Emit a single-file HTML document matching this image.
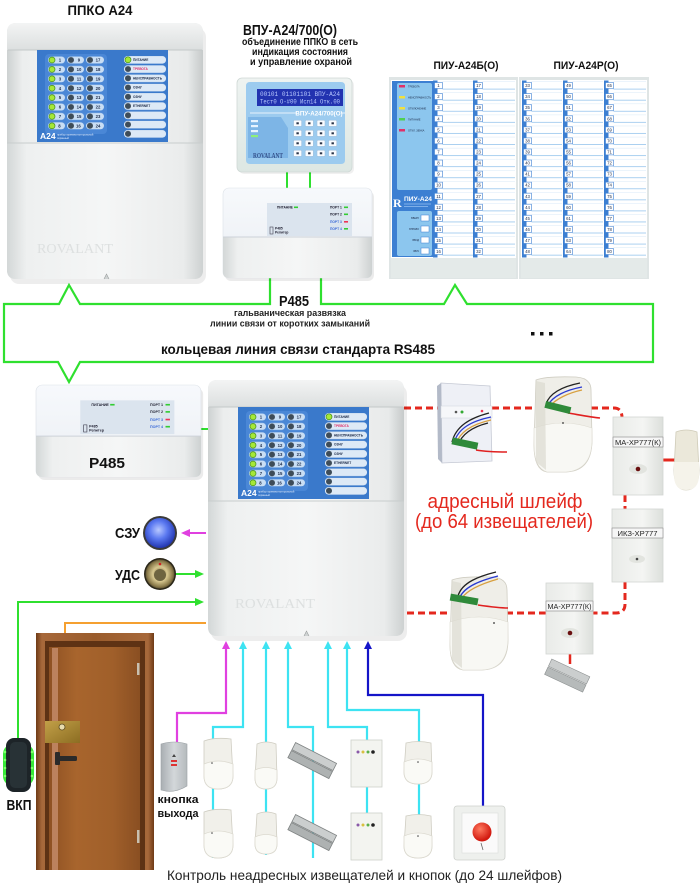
<!DOCTYPE html>
<html><head><meta charset="utf-8"><style>
html,body{margin:0;padding:0;background:#fff;}
svg{display:block;font-family:"Liberation Sans",Arial,sans-serif;}
</style></head><body>
<svg width="700" height="884" viewBox="0 0 700 884" xmlns="http://www.w3.org/2000/svg">
<defs>
 <linearGradient id="side" x1="0" x2="1" y1="0" y2="0">
  <stop offset="0" stop-color="#cdd1d1"/><stop offset=".08" stop-color="#eceeee"/><stop offset=".5" stop-color="#f6f7f7"/><stop offset=".92" stop-color="#e8eaea"/><stop offset="1" stop-color="#c6caca"/>
 </linearGradient>
 <linearGradient id="cap" x1="0" x2="0" y1="0" y2="1">
  <stop offset="0" stop-color="#f3f4f4"/><stop offset="1" stop-color="#dcdfdf"/>
 </linearGradient>
 <linearGradient id="cover" x1="0" x2="1" y1="0" y2="0">
  <stop offset="0" stop-color="#d3d7d7"/><stop offset=".1" stop-color="#eef0f0"/><stop offset=".5" stop-color="#f5f6f6"/><stop offset=".9" stop-color="#eaecec"/><stop offset="1" stop-color="#cdd1d1"/>
 </linearGradient>
 <linearGradient id="rb" x1="0" x2="0" y1="0" y2="1">
  <stop offset="0" stop-color="#f7f9fc"/><stop offset="1" stop-color="#eaeef3"/>
 </linearGradient>
 <linearGradient id="vpu" x1="0" x2="0" y1="0" y2="1">
  <stop offset="0" stop-color="#eef3f1"/><stop offset="1" stop-color="#dde7e3"/>
 </linearGradient>
 <linearGradient id="wood" x1="0" x2="1" y1="0" y2="0">
  <stop offset="0" stop-color="#8e5123"/><stop offset=".3" stop-color="#a8652d"/><stop offset=".7" stop-color="#a05f2a"/><stop offset="1" stop-color="#8a4f22"/>
 </linearGradient>
 <linearGradient id="frame" x1="0" x2="1" y1="0" y2="0">
  <stop offset="0" stop-color="#6e3a16"/><stop offset=".05" stop-color="#a7683a"/><stop offset=".5" stop-color="#9a5c2c"/><stop offset=".95" stop-color="#a7683a"/><stop offset="1" stop-color="#6e3a16"/>
 </linearGradient>
 <linearGradient id="brass" x1="0" x2="1" y1="0" y2="1">
  <stop offset="0" stop-color="#c2a048"/><stop offset="1" stop-color="#8c6d22"/>
 </linearGradient>
 <linearGradient id="grey" x1="0" x2="1" y1="0" y2="0">
  <stop offset="0" stop-color="#a9aeb2"/><stop offset=".5" stop-color="#d3d7da"/><stop offset="1" stop-color="#b5babd"/>
 </linearGradient>
 <linearGradient id="ma" x1="0" x2="1" y1="0" y2="0">
  <stop offset="0" stop-color="#e9ebe8"/><stop offset=".6" stop-color="#f4f5f3"/><stop offset="1" stop-color="#dcdfdb"/>
 </linearGradient>
 <radialGradient id="sph" cx=".45" cy=".4" r=".6">
  <stop offset="0" stop-color="#b8c8ff"/><stop offset=".5" stop-color="#5a78f0"/><stop offset="1" stop-color="#2236b0"/>
 </radialGradient>
 <radialGradient id="udc" cx=".5" cy=".5" r=".55">
  <stop offset="0" stop-color="#6a5a30"/><stop offset=".45" stop-color="#d8c890"/><stop offset=".8" stop-color="#8a7a4a"/><stop offset="1" stop-color="#3a3220"/>
 </radialGradient>
 <radialGradient id="redb" cx=".4" cy=".35" r=".6">
  <stop offset="0" stop-color="#ff7a60"/><stop offset="1" stop-color="#d21a10"/>
 </radialGradient>
 <pattern id="a24L" patternUnits="userSpaceOnUse" x="0" y="5.8" width="131" height="9.4">
  <rect x="11" y=".7" width="17" height="7" rx="3.5" fill="#c9def4"/>
  <rect x="30" y=".7" width="17" height="7" rx="3.5" fill="#c9def4"/>
  <rect x="49" y=".7" width="18" height="7" rx="3.5" fill="#c9def4"/>
  <circle cx="15" cy="4.2" r="3" fill="#a6e838" stroke="#3d8a18" stroke-width=".7"/>
  <circle cx="34" cy="4.2" r="3" fill="#3e4c58"/>
  <circle cx="53" cy="4.2" r="3" fill="#3e4c58"/>
 </pattern>
 <pattern id="a24R" patternUnits="userSpaceOnUse" x="0" y="5.6" width="131" height="9.25">
  <rect x="87" y=".5" width="42" height="7.5" rx="3.5" fill="#dde9f6"/>
  <circle cx="91" cy="4.2" r="3" fill="#3e4c58"/>
 </pattern>
 <pattern id="piu" patternUnits="userSpaceOnUse" x="0" y="80.5" width="60" height="11.07">
  <rect x="0" y="0" width="4.5" height="11.07" fill="#3c7fd2"/>
  <rect x="1.5" y="2" width="8" height="6" fill="#fff" stroke="#3c7fd2" stroke-width=".6"/>
  <line x1="9.5" y1="8.6" x2="60" y2="8.6" stroke="#9cc8ee" stroke-width=".8"/>
  <line x1="9.5" y1="1.2" x2="60" y2="1.2" stroke="#d6e8f7" stroke-width=".5"/>
 </pattern>
 <pattern id="keys" patternUnits="userSpaceOnUse" x="293" y="119" width="11.7" height="10">
  <rect x=".6" y="1.2" width="8" height="6.2" rx="1" fill="#fafcff" stroke="#7fa0c0" stroke-width=".3"/>
  <rect x="3.4" y="3.3" width="2.4" height="2" fill="#2a3448"/>
 </pattern>
</defs>

<rect width="700" height="884" fill="#fff"/>

<!-- ===== titles ===== -->
<text x="100" y="15" font-size="14" font-weight="bold" text-anchor="middle" textLength="65" lengthAdjust="spacingAndGlyphs" fill="#111">ППКО А24</text>
<text x="290" y="35" font-size="15" font-weight="bold" text-anchor="middle" textLength="94" lengthAdjust="spacingAndGlyphs" fill="#111">ВПУ-А24/700(О)</text>
<g font-size="10" font-weight="bold" text-anchor="middle" fill="#111">
 <text x="300" y="45" textLength="116" lengthAdjust="spacingAndGlyphs">объединение ППКО в сеть</text>
 <text x="300" y="55" textLength="96" lengthAdjust="spacingAndGlyphs">индикация состояния</text>
 <text x="301" y="65" textLength="102" lengthAdjust="spacingAndGlyphs">и управление охраной</text>
</g>
<text x="466" y="69" font-size="11" font-weight="bold" text-anchor="middle" textLength="65" lengthAdjust="spacingAndGlyphs" fill="#111">ПИУ-А24Б(О)</text>
<text x="586" y="69" font-size="11" font-weight="bold" text-anchor="middle" textLength="65" lengthAdjust="spacingAndGlyphs" fill="#111">ПИУ-А24Р(О)</text>

<!-- ===== green ring ===== -->
<path d="M270,278 V304 H80 L69,285 L59,304 H4 V362 H58 L69,382 L80,362 H653 V304 H467 L455,285 L444,304 H321 V278" fill="none" stroke="#2fe02f" stroke-width="2.2"/>
<line x1="287" y1="172" x2="287" y2="189" stroke="#2fe02f" stroke-width="2"/>
<line x1="310" y1="172" x2="310" y2="189" stroke="#2fe02f" stroke-width="2"/>
<line x1="200" y1="429" x2="210" y2="429" stroke="#2fe02f" stroke-width="2"/>
<text x="294" y="306" font-size="15" font-weight="bold" text-anchor="middle" textLength="30" lengthAdjust="spacingAndGlyphs" fill="#111">Р485</text>
<g font-size="9.5" font-weight="bold" text-anchor="middle" fill="#222">
 <text x="290" y="316" textLength="112" lengthAdjust="spacingAndGlyphs">гальваническая развязка</text>
 <text x="290" y="326.5" textLength="160" lengthAdjust="spacingAndGlyphs">линии связи от коротких замыканий</text>
</g>
<text x="298" y="354" font-size="14" font-weight="bold" text-anchor="middle" textLength="274" lengthAdjust="spacingAndGlyphs" fill="#111">кольцевая линия связи стандарта RS485</text>
<g fill="#111"><rect x="531" y="332" width="3.5" height="3.5"/><rect x="540" y="332" width="3.5" height="3.5"/><rect x="549" y="332" width="3.5" height="3.5"/></g>

<!-- ===== red dashed address loop ===== -->
<g fill="none" stroke="#e4281e" stroke-width="3" stroke-dasharray="7 4">
 <path d="M404,408 H614 Q622,408 622,418"/>
 <path d="M625,495 V510"/>
 <path d="M625,582 V604 Q625,613 616,613 H593"/>
 <path d="M546,613 H404"/>
</g>
<line x1="663" y1="460" x2="675" y2="460" stroke="#e4281e" stroke-width="3"/>
<line x1="570" y1="654" x2="570" y2="664" stroke="#e4281e" stroke-width="2.5"/>

<!-- ===== left arrows ===== -->
<line x1="190" y1="533" x2="206" y2="533" stroke="#e040e0" stroke-width="2"/>
<polygon points="181,533 190,529 190,537" fill="#e040e0"/>
<line x1="175" y1="574" x2="196" y2="574" stroke="#2fe02f" stroke-width="2"/>
<polygon points="204,574 195,570 195,578" fill="#2fe02f"/>
<path d="M18,738 V602 H196" fill="none" stroke="#2fe02f" stroke-width="2"/>
<polygon points="204,602 195,598 195,606" fill="#2fe02f"/>
<path d="M206,623 H65 V712" fill="none" stroke="#f5a030" stroke-width="2"/>
<polygon points="65,721 60,712 70,712" fill="#f5a030"/>

<!-- ===== bottom loops ===== -->
<g fill="none" stroke-width="2.2">
 <path d="M226,648 V713 H177 V742" stroke="#e040e0"/>
 <path d="M243,648 V727 H213 V858" stroke="#3de3f2"/>
 <path d="M266,648 V855" stroke="#3de3f2"/>
 <path d="M288,648 V727 H313 V858" stroke="#3de3f2"/>
 <path d="M328,648 V727 H367 V860" stroke="#3de3f2"/>
 <path d="M347,648 V710 H419 V858" stroke="#3de3f2"/>
 <path d="M368,648 V695 H483 V808" stroke="#1515c8"/>
</g>
<polygon points="226,641 222,649 230,649" fill="#e040e0"/>
<g fill="#3de3f2">
 <polygon points="243,641 239,649 247,649"/>
 <polygon points="266,641 262,649 270,649"/>
 <polygon points="288,641 284,649 292,649"/>
 <polygon points="328,641 324,649 332,649"/>
 <polygon points="347,641 343,649 351,649"/>
</g>
<polygon points="368,641 364,649 372,649" fill="#1515c8"/>

<!-- ===== ППКО A24 top ===== -->
<g transform="translate(7,23)">
 <rect x="3" y="5" width="196" height="256" rx="9" fill="#000" opacity=".07"/>
 <rect x="0" y="0" width="196" height="256" rx="9" fill="url(#side)"/>
 <path d="M0,9 Q0,0 9,0 H187 Q196,0 196,9 V27 H0 Z" fill="url(#cap)"/>
 <line x1="1" y1="27" x2="195" y2="27" stroke="#c4c9c9"/>
 <g transform="translate(30,27)">
  <rect width="131" height="92" fill="#3a79cb"/>
  <rect x="8" y="4" width="62" height="80" rx="4" fill="#4a87d6"/>
  <rect x="9" y="5.8" width="60" height="75.2" fill="url(#a24L)"/>
  <rect x="86" y="5.6" width="44" height="83.25" fill="url(#a24R)"/>
  <circle cx="91" cy="9.8" r="3" fill="#a6e838" stroke="#3d8a18" stroke-width=".7"/>
  <text font-size="4.3" font-weight="bold" fill="#1c2a48" text-anchor="middle">
   <tspan x="23" y="11.6">1</tspan><tspan x="23" y="21">2</tspan><tspan x="23" y="30.4">3</tspan><tspan x="23" y="39.8">4</tspan><tspan x="23" y="49.2">5</tspan><tspan x="23" y="58.6">6</tspan><tspan x="23" y="68">7</tspan><tspan x="23" y="77.4">8</tspan>
   <tspan x="42" y="11.6">9</tspan><tspan x="42" y="21">10</tspan><tspan x="42" y="30.4">11</tspan><tspan x="42" y="39.8">12</tspan><tspan x="42" y="49.2">13</tspan><tspan x="42" y="58.6">14</tspan><tspan x="42" y="68">15</tspan><tspan x="42" y="77.4">16</tspan>
   <tspan x="61" y="11.6">17</tspan><tspan x="61" y="21">18</tspan><tspan x="61" y="30.4">19</tspan><tspan x="61" y="39.8">20</tspan><tspan x="61" y="49.2">21</tspan><tspan x="61" y="58.6">22</tspan><tspan x="61" y="68">23</tspan><tspan x="61" y="77.4">24</tspan>
  </text>
  <text font-size="3.2" font-weight="bold" fill="#1c2a48">
   <tspan x="96" y="10.9">ПИТАНИЕ</tspan><tspan x="96" y="20.15" fill="#e0306a">ТРЕВОГА</tspan><tspan x="96" y="29.4">НЕИСПРАВНОСТЬ</tspan><tspan x="96" y="38.65">ОЗНУ</tspan><tspan x="96" y="47.9">ОЗНУ</tspan><tspan x="96" y="57.15">ETHERNET</tspan>
  </text>
  <text x="3" y="89" font-size="8.5" font-weight="bold" fill="#fff">A24</text>
  <text x="20" y="85.5" font-size="2.6" fill="#e6f0ff">прибор приемно-контрольный</text>
  <text x="20" y="89" font-size="2.6" fill="#e6f0ff">охранный</text>
 </g>
 <path d="M0,120 H196 V247 Q196,256 187,256 H9 Q0,256 0,247 Z" fill="url(#cover)"/>
 <line x1="0" y1="120" x2="196" y2="120" stroke="#c8cdcd"/>
 <text x="30" y="230" font-family="Liberation Serif,serif" font-size="14" fill="#dde0e0" textLength="76" lengthAdjust="spacingAndGlyphs">ROVALANT</text>
 <path d="M97,256 L99.5,251 L102,256" fill="#cfd3d3" stroke="#9a9e9e" stroke-width=".6"/>
</g>

<!-- ===== ВПУ ===== -->
<g>
 <rect x="239" y="80" width="115" height="94" rx="5" fill="#000" opacity=".06"/>
 <rect x="237" y="78" width="115" height="94" rx="5" fill="url(#vpu)" stroke="#cfd8d5" stroke-width=".8"/>
 <path d="M246,86 Q246,82 250,82 H341 Q345,82 345,86 V160 Q345,164 341,164 H250 Q246,164 246,160 Z" fill="#9ccbef"/>
 <rect x="257" y="89" width="86" height="17" fill="#2233b0"/>
 <text x="260" y="96" font-family="Liberation Mono,monospace" font-size="6" fill="#b8c8ff" textLength="80" lengthAdjust="spacingAndGlyphs">00101  01101101  ВПУ-А24</text>
 <text x="260" y="103.5" font-family="Liberation Mono,monospace" font-size="6" fill="#b8c8ff" textLength="80" lengthAdjust="spacingAndGlyphs">Тест0 О-#00 Исп14 Отк.00</text>
 <line x1="250" y1="113" x2="345" y2="113" stroke="#fff" stroke-width=".8"/>
 <rect x="297" y="109" width="44" height="8" fill="#9ccbef"/>
 <text x="319" y="115.5" font-size="6.2" font-weight="bold" fill="#fff" text-anchor="middle">ВПУ-А24/700(О)</text>
 <path d="M248,117 H281 L288,128 V158 H248 Z" fill="#7db5e6"/>
 <rect x="251" y="120" width="7" height="2.2" fill="#e8f4ff"/><rect x="251" y="125" width="7" height="2.2" fill="#e8f4ff"/><rect x="251" y="130" width="7" height="2.2" fill="#e8f4ff"/><rect x="251" y="135" width="7" height="2.2" fill="#8ef07a"/>
 <rect x="293" y="119" width="46.8" height="40" fill="url(#keys)"/>
 <text x="253" y="158" font-family="Liberation Serif,serif" font-size="7" font-weight="bold" fill="#34508a" textLength="30" lengthAdjust="spacingAndGlyphs">ROVALANT</text>
</g>

<!-- ===== Р485 top ===== -->
<g transform="translate(223,188)">
 <rect x="2" y="3" width="149" height="90" rx="6" fill="#000" opacity=".08"/>
 <rect x="0" y="0" width="149" height="90" rx="6" fill="url(#rb)" stroke="#dde2e8" stroke-width=".6"/>
 <rect x="44" y="15" width="85" height="33" fill="#dbe4ee"/>
 <g font-size="3.3" font-weight="bold" fill="#223">
  <text x="54" y="20.5">ПИТАНИЕ</text>
  <text x="107" y="20.5">ПОРТ 1</text><text x="107" y="27.5">ПОРТ 2</text><text x="107" y="35" fill="#3a6ad8">ПОРТ 3</text><text x="107" y="42" fill="#3a6ad8">ПОРТ 4</text>
  <text x="52" y="41.5">Р485</text><text x="52" y="45.5">Репитер</text>
 </g>
 <rect x="71" y="18.5" width="4" height="1.6" fill="#3c3"/>
 <rect x="121" y="18.5" width="4" height="1.6" fill="#3c3"/><rect x="121" y="25.5" width="4" height="1.6" fill="#3c3"/><rect x="121" y="33" width="4" height="1.6" fill="#e35"/><rect x="121" y="40" width="4" height="1.6" fill="#3c3"/>
 <rect x="47" y="39" width="3" height="7" fill="none" stroke="#445" stroke-width=".6"/>
 <path d="M0,49 H149 V84 Q149,90 143,90 H6 Q0,90 0,84 Z" fill="url(#cover)"/>
 <line x1="0" y1="49" x2="149" y2="49" stroke="#cdd2d8"/>
</g>

<!-- ===== ПИУ-А24Б ===== -->
<g>
 <rect x="389" y="77" width="129" height="202" fill="#dfe5e5"/>
 <rect x="391" y="80" width="125" height="178" fill="#fff"/>
 <rect x="391" y="258" width="125" height="20" fill="#e4eae9"/>
 <rect x="392" y="81" width="41" height="176" fill="#3c7fd2"/>
 <rect x="397" y="83" width="35" height="107" rx="2" fill="#8cc6ee"/>
 <rect x="399" y="85" width="6" height="2.5" fill="#e0306a"/>
 <rect x="399" y="96" width="6" height="2.5" fill="#f0e040"/>
 <rect x="399" y="107" width="6" height="2.5" fill="#f0e040"/>
 <rect x="399" y="118" width="6" height="2.5" fill="#50d050"/>
 <rect x="399" y="129" width="6" height="2.5" fill="#e0306a"/>
 <g font-size="2.6" fill="#1c2a48">
  <text x="408" y="87.5">ТРЕВОГА</text><text x="408" y="98.5">НЕИСПРАВНОСТЬ</text><text x="408" y="109.5">ОТКЛЮЧЕНИЕ</text><text x="408" y="120.5">ПИТАНИЕ</text><text x="408" y="131.5">ОТКЛ. ЗВУКА</text>
 </g>
 <text x="393" y="207" font-family="Liberation Serif,serif" font-size="12" font-weight="bold" fill="#fff">R</text>
 <text x="404" y="201" font-size="6.5" font-weight="bold" fill="#fff" textLength="28" lengthAdjust="spacingAndGlyphs">ПИУ-А24</text>
 <line x1="404" y1="204" x2="431" y2="204" stroke="#bfe0ff" stroke-width=".6"/>
 <line x1="404" y1="206.5" x2="428" y2="206.5" stroke="#bfe0ff" stroke-width=".6"/>
 <rect x="397" y="211" width="35" height="45" rx="2" fill="#8cc6ee"/>
 <g fill="#fff" stroke="#3c7fd2" stroke-width=".5"><rect x="421" y="215" width="8" height="6"/><rect x="421" y="226" width="8" height="6"/><rect x="421" y="237" width="8" height="6"/><rect x="421" y="248" width="8" height="6"/></g>
 <g font-size="2.4" fill="#1c2a48" text-anchor="end"><text x="419" y="219">ВВЕРХ</text><text x="419" y="230">ВПРАВО</text><text x="419" y="241">ВВОД</text><text x="419" y="252">ЗВУК</text></g>
 <g transform="translate(433,0)">
  <rect x="0" y="80.5" width="40" height="177" fill="url(#piu)"/>
  <text font-size="4.3" fill="#1c2a48" text-anchor="middle"><tspan x="5.5" y="87.1">1</tspan><tspan x="5.5" y="98.2">2</tspan><tspan x="5.5" y="109.2">3</tspan><tspan x="5.5" y="120.3">4</tspan><tspan x="5.5" y="131.4">5</tspan><tspan x="5.5" y="142.5">6</tspan><tspan x="5.5" y="153.5">7</tspan><tspan x="5.5" y="164.6">8</tspan><tspan x="5.5" y="175.7">9</tspan><tspan x="5.5" y="186.7">10</tspan><tspan x="5.5" y="197.8">11</tspan><tspan x="5.5" y="208.9">12</tspan><tspan x="5.5" y="219.9">13</tspan><tspan x="5.5" y="231">14</tspan><tspan x="5.5" y="242.1">15</tspan><tspan x="5.5" y="253.2">16</tspan></text>
 </g>
 <g transform="translate(473,0)">
  <rect x="0" y="80.5" width="42" height="177" fill="url(#piu)"/>
  <text font-size="4.3" fill="#1c2a48" text-anchor="middle"><tspan x="5.5" y="87.1">17</tspan><tspan x="5.5" y="98.2">18</tspan><tspan x="5.5" y="109.2">19</tspan><tspan x="5.5" y="120.3">20</tspan><tspan x="5.5" y="131.4">21</tspan><tspan x="5.5" y="142.5">22</tspan><tspan x="5.5" y="153.5">23</tspan><tspan x="5.5" y="164.6">24</tspan><tspan x="5.5" y="175.7">25</tspan><tspan x="5.5" y="186.7">26</tspan><tspan x="5.5" y="197.8">27</tspan><tspan x="5.5" y="208.9">28</tspan><tspan x="5.5" y="219.9">29</tspan><tspan x="5.5" y="231">30</tspan><tspan x="5.5" y="242.1">31</tspan><tspan x="5.5" y="253.2">32</tspan></text>
 </g>
</g>

<!-- ===== ПИУ-А24Р ===== -->
<g>
 <rect x="519" y="77" width="130" height="202" fill="#dfe5e5"/>
 <rect x="521" y="80" width="126" height="178" fill="#fff"/>
 <rect x="521" y="258" width="126" height="20" fill="#e4eae9"/>
 <g transform="translate(522,0)">
  <rect x="0" y="80.5" width="40" height="177" fill="url(#piu)"/>
  <text font-size="4.3" fill="#1c2a48" text-anchor="middle"><tspan x="5.5" y="87.1">33</tspan><tspan x="5.5" y="98.2">34</tspan><tspan x="5.5" y="109.2">35</tspan><tspan x="5.5" y="120.3">36</tspan><tspan x="5.5" y="131.4">37</tspan><tspan x="5.5" y="142.5">38</tspan><tspan x="5.5" y="153.5">39</tspan><tspan x="5.5" y="164.6">40</tspan><tspan x="5.5" y="175.7">41</tspan><tspan x="5.5" y="186.7">42</tspan><tspan x="5.5" y="197.8">43</tspan><tspan x="5.5" y="208.9">44</tspan><tspan x="5.5" y="219.9">45</tspan><tspan x="5.5" y="231">46</tspan><tspan x="5.5" y="242.1">47</tspan><tspan x="5.5" y="253.2">48</tspan></text>
 </g>
 <g transform="translate(563,0)">
  <rect x="0" y="80.5" width="40" height="177" fill="url(#piu)"/>
  <text font-size="4.3" fill="#1c2a48" text-anchor="middle"><tspan x="5.5" y="87.1">49</tspan><tspan x="5.5" y="98.2">50</tspan><tspan x="5.5" y="109.2">51</tspan><tspan x="5.5" y="120.3">52</tspan><tspan x="5.5" y="131.4">53</tspan><tspan x="5.5" y="142.5">54</tspan><tspan x="5.5" y="153.5">55</tspan><tspan x="5.5" y="164.6">56</tspan><tspan x="5.5" y="175.7">57</tspan><tspan x="5.5" y="186.7">58</tspan><tspan x="5.5" y="197.8">59</tspan><tspan x="5.5" y="208.9">60</tspan><tspan x="5.5" y="219.9">61</tspan><tspan x="5.5" y="231">62</tspan><tspan x="5.5" y="242.1">63</tspan><tspan x="5.5" y="253.2">64</tspan></text>
 </g>
 <g transform="translate(604,0)">
  <rect x="0" y="80.5" width="42" height="177" fill="url(#piu)"/>
  <text font-size="4.3" fill="#1c2a48" text-anchor="middle"><tspan x="5.5" y="87.1">65</tspan><tspan x="5.5" y="98.2">66</tspan><tspan x="5.5" y="109.2">67</tspan><tspan x="5.5" y="120.3">68</tspan><tspan x="5.5" y="131.4">69</tspan><tspan x="5.5" y="142.5">70</tspan><tspan x="5.5" y="153.5">71</tspan><tspan x="5.5" y="164.6">72</tspan><tspan x="5.5" y="175.7">73</tspan><tspan x="5.5" y="186.7">74</tspan><tspan x="5.5" y="197.8">75</tspan><tspan x="5.5" y="208.9">76</tspan><tspan x="5.5" y="219.9">77</tspan><tspan x="5.5" y="231">78</tspan><tspan x="5.5" y="242.1">79</tspan><tspan x="5.5" y="253.2">80</tspan></text>
 </g>
</g>

<!-- ===== Р485 lower ===== -->
<g transform="translate(36,385) scale(1.107,1.022)">
 <rect x="2" y="3" width="149" height="90" rx="6" fill="#000" opacity=".08"/>
 <rect x="0" y="0" width="149" height="90" rx="6" fill="url(#rb)" stroke="#dde2e8" stroke-width=".6"/>
 <rect x="40" y="15" width="85" height="33" fill="#dbe4ee"/>
 <g font-size="3.3" font-weight="bold" fill="#223">
  <text x="50" y="20.5">ПИТАНИЕ</text>
  <text x="103" y="20.5">ПОРТ 1</text><text x="103" y="27.5">ПОРТ 2</text><text x="103" y="35" fill="#3a6ad8">ПОРТ 3</text><text x="103" y="42" fill="#3a6ad8">ПОРТ 4</text>
  <text x="48" y="41.5">Р485</text><text x="48" y="45.5">Репитер</text>
 </g>
 <rect x="67" y="18.5" width="4" height="1.6" fill="#3c3"/>
 <rect x="117" y="18.5" width="4" height="1.6" fill="#3c3"/><rect x="117" y="25.5" width="4" height="1.6" fill="#3c3"/><rect x="117" y="33" width="4" height="1.6" fill="#e35"/><rect x="117" y="40" width="4" height="1.6" fill="#3c3"/>
 <rect x="43" y="39" width="3" height="7" fill="none" stroke="#445" stroke-width=".6"/>
 <path d="M0,50 H149 V84 Q149,90 143,90 H6 Q0,90 0,84 Z" fill="url(#cover)"/>
 <line x1="0" y1="50" x2="149" y2="50" stroke="#cdd2d8"/>
</g>
<text x="107" y="468" font-size="15" font-weight="bold" text-anchor="middle" textLength="36" lengthAdjust="spacingAndGlyphs" fill="#111">Р485</text>

<!-- ===== A24 main lower ===== -->
<g transform="translate(208,380)">
 <rect x="3" y="5" width="196" height="256" rx="9" fill="#000" opacity=".07"/>
 <rect x="0" y="0" width="196" height="256" rx="9" fill="url(#side)"/>
 <path d="M0,9 Q0,0 9,0 H187 Q196,0 196,9 V27 H0 Z" fill="url(#cap)"/>
 <line x1="1" y1="27" x2="195" y2="27" stroke="#c4c9c9"/>
 <g transform="translate(30,27)">
  <rect width="131" height="92" fill="#3a79cb"/>
  <rect x="8" y="4" width="62" height="80" rx="4" fill="#4a87d6"/>
  <rect x="9" y="5.8" width="60" height="75.2" fill="url(#a24L)"/>
  <rect x="86" y="5.6" width="44" height="83.25" fill="url(#a24R)"/>
  <circle cx="91" cy="9.8" r="3" fill="#a6e838" stroke="#3d8a18" stroke-width=".7"/>
  <text font-size="4.3" font-weight="bold" fill="#1c2a48" text-anchor="middle">
   <tspan x="23" y="11.6">1</tspan><tspan x="23" y="21">2</tspan><tspan x="23" y="30.4">3</tspan><tspan x="23" y="39.8">4</tspan><tspan x="23" y="49.2">5</tspan><tspan x="23" y="58.6">6</tspan><tspan x="23" y="68">7</tspan><tspan x="23" y="77.4">8</tspan>
   <tspan x="42" y="11.6">9</tspan><tspan x="42" y="21">10</tspan><tspan x="42" y="30.4">11</tspan><tspan x="42" y="39.8">12</tspan><tspan x="42" y="49.2">13</tspan><tspan x="42" y="58.6">14</tspan><tspan x="42" y="68">15</tspan><tspan x="42" y="77.4">16</tspan>
   <tspan x="61" y="11.6">17</tspan><tspan x="61" y="21">18</tspan><tspan x="61" y="30.4">19</tspan><tspan x="61" y="39.8">20</tspan><tspan x="61" y="49.2">21</tspan><tspan x="61" y="58.6">22</tspan><tspan x="61" y="68">23</tspan><tspan x="61" y="77.4">24</tspan>
  </text>
  <text font-size="3.2" font-weight="bold" fill="#1c2a48">
   <tspan x="96" y="10.9">ПИТАНИЕ</tspan><tspan x="96" y="20.15" fill="#e0306a">ТРЕВОГА</tspan><tspan x="96" y="29.4">НЕИСПРАВНОСТЬ</tspan><tspan x="96" y="38.65">ОЗНУ</tspan><tspan x="96" y="47.9">ОЗНУ</tspan><tspan x="96" y="57.15">ETHERNET</tspan>
  </text>
  <text x="3" y="89" font-size="8.5" font-weight="bold" fill="#fff">A24</text>
  <text x="20" y="85.5" font-size="2.6" fill="#e6f0ff">прибор приемно-контрольный</text>
  <text x="20" y="89" font-size="2.6" fill="#e6f0ff">охранный</text>
 </g>
 <path d="M0,121 H196 V247 Q196,256 187,256 H9 Q0,256 0,247 Z" fill="url(#cover)"/>
 <line x1="0" y1="121" x2="196" y2="121" stroke="#c8cdcd"/>
 <text x="27" y="228" font-family="Liberation Serif,serif" font-size="14" fill="#dde0e0" textLength="80" lengthAdjust="spacingAndGlyphs">ROVALANT</text>
 <path d="M96,256 L98.5,251 L101,256" fill="#cfd3d3" stroke="#9a9e9e" stroke-width=".6"/>
</g>

<!-- ===== address-loop sensors ===== -->
<g>
 <path d="M441,383 L490,386 L492,461 L442,463 Z" fill="#eef0f6" stroke="#c5c9d4" stroke-width=".8"/>
 <path d="M437,386 L441,383 L442,463 L438,459 Z" fill="#b3bac8"/>
 <rect x="441" y="406" width="51" height="12" fill="#f6f7fa" stroke="#d0d4dc" stroke-width=".5"/>
 <circle cx="456" cy="412" r="1.3" fill="#555"/><circle cx="462" cy="412" r="1.5" fill="#3a3"/><circle cx="482" cy="411" r="1.3" fill="#e35"/>
 <g fill="none" stroke-width="1.3">
  <path d="M489,413 C470,418 456,426 452,442" stroke="#222"/>
  <path d="M491,417 C472,421 458,428 454,443" stroke="#2a3ad0"/>
  <path d="M491,420 C473,424 460,431 456,444" stroke="#d8a040"/>
  <path d="M488,423 C472,427 462,434 458,445" stroke="#222"/>
  <path d="M476,450 C488,452 498,452 507,452" stroke="#e02020" stroke-width="1.6"/>
 </g>
 <rect x="452" y="440" width="26" height="7" fill="#2f8a3a" transform="rotate(12 465 443)"/>
</g>
<g>
 <path d="M536,380 Q546,376 576,377 Q591,378 591,390 L592,440 Q592,471 566,472 L547,472 Q534,470 534,445 Z" fill="#efeee8" stroke="#cfcdc2" stroke-width=".8"/>
 <path d="M534,428 Q563,418 592,428 L592,442 Q591,470 566,472 L547,472 Q534,468 534,445 Z" fill="#f8f8f4" stroke="#dcdad0" stroke-width=".6"/>
 <path d="M536,381 L545,383 L546,470 L536,462 Z" fill="#dcdad0" opacity=".7"/>
 <g fill="none" stroke-width="1.3">
  <path d="M580,383 C565,386 550,392 546,404" stroke="#222"/>
  <path d="M582,387 C566,390 553,396 548,405" stroke="#2a3ad0"/>
  <path d="M582,390 C568,393 556,399 550,406" stroke="#d8a040"/>
  <path d="M568,413 C580,415 590,417 600,418" stroke="#e02020" stroke-width="1.6"/>
 </g>
 <rect x="545" y="404" width="26" height="7" fill="#2f8a3a" transform="rotate(14 558 407)"/>
 <circle cx="563" cy="423" r=".9" fill="#333"/>
</g>
<g>
 <rect x="613" y="417" width="50" height="78" fill="url(#ma)" stroke="#d3d6d3" stroke-width=".8"/>
 <rect x="613" y="437" width="50" height="10" fill="#f6f6f6" stroke="#888" stroke-width=".6"/>
 <text x="638" y="445" font-size="7.5" text-anchor="middle" fill="#222" textLength="46" lengthAdjust="spacingAndGlyphs">МА-ХР777(К)</text>
 <ellipse cx="638" cy="469" rx="9" ry="5" fill="#e2e4df"/>
 <circle cx="638" cy="469" r="2.3" fill="#6a1010"/>
</g>
<g>
 <path d="M676,432 Q686,428 697,432 L699,470 Q699,490 686,490 Q674,490 674,470 Z" fill="#ebe8da" stroke="#cfcbb8" stroke-width=".8"/>
 <path d="M674,462 L699,462 L699,475 Q699,490 686,490 Q674,490 674,475 Z" fill="#f5f3ea"/>
</g>
<g>
 <rect x="612" y="509" width="51" height="73" fill="url(#ma)" stroke="#d3d6d3" stroke-width=".8"/>
 <rect x="612" y="528" width="51" height="10" fill="#f6f6f6" stroke="#888" stroke-width=".6"/>
 <text x="637.5" y="536" font-size="7.5" text-anchor="middle" fill="#222" textLength="40" lengthAdjust="spacingAndGlyphs">ИКЗ-ХР777</text>
 <ellipse cx="637" cy="559" rx="8" ry="4" fill="#e2e4df"/>
 <circle cx="637" cy="559" r="1.3" fill="#444"/>
</g>
<g>
 <path d="M452,580 Q462,576 492,577 Q507,578 507,590 L508,640 Q508,669 482,670 L463,670 Q450,668 450,645 Z" fill="#efeee8" stroke="#cfcdc2" stroke-width=".8"/>
 <path d="M450,622 Q479,612 508,622 L508,640 Q507,669 482,670 L463,670 Q450,666 450,645 Z" fill="#f8f8f4" stroke="#dcdad0" stroke-width=".6"/>
 <path d="M452,581 L461,583 L462,668 L452,660 Z" fill="#dcdad0" opacity=".7"/>
 <g fill="none" stroke-width="1.3">
  <path d="M496,572 C480,576 462,582 458,596" stroke="#222"/>
  <path d="M498,576 C482,580 465,586 460,597" stroke="#2a3ad0"/>
  <path d="M498,579 C484,583 468,589 462,598" stroke="#d8a040"/>
  <path d="M478,605 C492,607 500,608 508,608" stroke="#e02020" stroke-width="1.6"/>
 </g>
 <rect x="450" y="596" width="28" height="7" fill="#2f8a3a" transform="rotate(10 464 600)"/>
 <circle cx="494" cy="623" r=".9" fill="#333"/>
</g>
<g>
 <rect x="546" y="583" width="47" height="71" fill="url(#ma)" stroke="#d3d6d3" stroke-width=".8"/>
 <rect x="546" y="601" width="47" height="10" fill="#f6f6f6" stroke="#888" stroke-width=".6"/>
 <text x="569.5" y="609" font-size="7.5" text-anchor="middle" fill="#222" textLength="44" lengthAdjust="spacingAndGlyphs">МА-ХР777(К)</text>
 <ellipse cx="570" cy="633" rx="9" ry="5" fill="#e2e4df"/>
 <circle cx="570" cy="633" r="2.3" fill="#6a1010"/>
</g>
<g transform="rotate(25 567 676)">
 <rect x="546" y="667" width="42" height="8" fill="#cbcece" stroke="#8a8e8e" stroke-width=".6"/>
 <rect x="546" y="676" width="42" height="8" fill="#b6baba" stroke="#8a8e8e" stroke-width=".6"/>
</g>

<text x="505" y="508" font-size="20" fill="#e4281e" text-anchor="middle" textLength="155" lengthAdjust="spacingAndGlyphs">адресный шлейф</text>
<text x="504" y="528" font-size="20" fill="#e4281e" text-anchor="middle" textLength="178" lengthAdjust="spacingAndGlyphs">(до 64 извещателей)</text>

<!-- ===== СЗУ / УДС ===== -->
<text x="140" y="538" font-size="15" font-weight="bold" text-anchor="end" textLength="25" lengthAdjust="spacingAndGlyphs" fill="#111">СЗУ</text>
<circle cx="160" cy="533" r="17" fill="#3a3a3a"/>
<circle cx="160" cy="533" r="15" fill="url(#sph)"/>
<text x="140" y="580" font-size="15" font-weight="bold" text-anchor="end" textLength="25" lengthAdjust="spacingAndGlyphs" fill="#111">УДС</text>
<circle cx="160" cy="574" r="16" fill="#2a2618"/>
<circle cx="160" cy="574" r="14.5" fill="url(#udc)"/>
<circle cx="160" cy="575" r="6" fill="#6e6440"/>
<circle cx="160" cy="564" r="1.3" fill="#d02020"/>

<!-- ===== door ===== -->
<g>
 <rect x="36" y="633" width="118" height="237" fill="url(#frame)"/>
 <rect x="45" y="641" width="100" height="229" fill="#5e3214"/>
 <rect x="49" y="647" width="91" height="223" fill="url(#wood)"/>
 <rect x="52" y="648" width="6" height="222" fill="#c99272" opacity=".75"/>
 <rect x="137" y="663" width="2.5" height="12" fill="#c8c0b0"/>
 <rect x="137" y="830" width="2.5" height="13" fill="#c8c0b0"/>
 <rect x="45" y="721" width="35" height="22" fill="url(#brass)"/>
 <circle cx="62" cy="727" r="3" fill="#e8dcb0" stroke="#5a4a20" stroke-width=".8"/>
 <rect x="55" y="756" width="22" height="5" rx="1.5" fill="#2a2a2a"/>
 <rect x="55" y="752" width="5" height="13" rx="1" fill="#2a2a2a"/>
</g>

<!-- ===== ВКП ===== -->
<g>
 <rect x="3" y="744" width="31" height="42" rx="10" fill="#36e836"/>
 <rect x="6" y="738" width="25" height="54" rx="8" fill="#1d2428"/>
 <rect x="10" y="742" width="17" height="46" rx="5" fill="#283236"/>
 <g fill="#7dff6a"><circle cx="5" cy="752" r="1.3"/><circle cx="5" cy="760" r="1.3"/><circle cx="5" cy="768" r="1.3"/><circle cx="5" cy="776" r="1.3"/><circle cx="32" cy="752" r="1.3"/><circle cx="32" cy="760" r="1.3"/><circle cx="32" cy="768" r="1.3"/><circle cx="32" cy="776" r="1.3"/></g>
</g>
<text x="19" y="810" font-size="15" font-weight="bold" text-anchor="middle" textLength="25" lengthAdjust="spacingAndGlyphs" fill="#111">ВКП</text>

<!-- ===== exit button ===== -->
<g>
 <path d="M161,744 Q174,740 187,744 L187,786 Q174,794 161,790 Z" fill="url(#grey)" stroke="#9aa0a4" stroke-width=".6"/>
 <path d="M172,757 l2,-3 l2,3 z" fill="#444"/>
 <rect x="171" y="760" width="6" height="2" fill="#d33"/><rect x="171" y="764" width="6" height="2" fill="#d33"/>
</g>
<text x="178" y="803" font-size="11" font-weight="bold" text-anchor="middle" textLength="41" lengthAdjust="spacingAndGlyphs" fill="#111">кнопка</text>
<text x="178" y="817" font-size="11" font-weight="bold" text-anchor="middle" textLength="41" lengthAdjust="spacingAndGlyphs" fill="#111">выхода</text>

<!-- ===== non-address sensors ===== -->
<g stroke-width=".8">
 <path d="M204,741 Q215,737 231,739 L233,776 Q233,789 218,789 Q204,789 204,776 Z" fill="#f1f0ea" stroke="#cfcdc2"/>
 <path d="M204,764 Q218,758 233,764 L233,776 Q233,789 218,789 Q204,789 204,776 Z" fill="#fafaf6" stroke="#dcdad0"/>
 <circle cx="212" cy="763" r=".8" fill="#444"/>
 <path d="M204,812 Q215,808 231,810 L233,845 Q233,858 218,858 Q204,858 204,845 Z" fill="#f1f0ea" stroke="#cfcdc2"/>
 <path d="M204,834 Q218,828 233,834 L233,845 Q233,858 218,858 Q204,858 204,845 Z" fill="#fafaf6" stroke="#dcdad0"/>
 <circle cx="212" cy="833" r=".8" fill="#444"/>
 <path d="M257,744 Q266,740 276,744 L277,778 Q277,789 266,789 Q255,789 255,778 Z" fill="#f1f0ea" stroke="#cfcdc2"/>
 <path d="M255,770 Q266,765 277,770 L277,778 Q277,789 266,789 Q255,789 255,778 Z" fill="#fafaf6" stroke="#dcdad0"/>
 <path d="M257,814 Q266,810 276,814 L277,844 Q277,854 266,854 Q255,854 255,844 Z" fill="#f1f0ea" stroke="#cfcdc2"/>
 <path d="M255,837 Q266,832 277,837 L277,844 Q277,854 266,854 Q255,854 255,844 Z" fill="#fafaf6" stroke="#dcdad0"/>
 <g transform="rotate(27 312 761)"><rect x="289" y="752" width="46" height="8" fill="#cbcece" stroke="#7f8383"/><rect x="289" y="761" width="46" height="8" fill="#aeb2b2" stroke="#7f8383"/></g>
 <g transform="rotate(27 312 833)"><rect x="289" y="824" width="46" height="8" fill="#cbcece" stroke="#7f8383"/><rect x="289" y="833" width="46" height="8" fill="#aeb2b2" stroke="#7f8383"/></g>
 <rect x="351" y="740" width="31" height="47" fill="#f3f4f0" stroke="#cdd0ca"/>
 <rect x="351" y="813" width="31" height="47" fill="#f3f4f0" stroke="#cdd0ca"/>
 <path d="M406,743 Q418,740 431,743 L432,772 Q432,784 418,784 Q404,784 404,772 Z" fill="#f1f0ea" stroke="#cfcdc2"/>
 <path d="M404,762 Q418,756 432,762 L432,772 Q432,784 418,784 Q404,784 404,772 Z" fill="#fafaf6" stroke="#dcdad0"/>
 <circle cx="418" cy="762" r=".8" fill="#444"/>
 <path d="M406,816 Q418,813 431,816 L432,846 Q432,858 418,858 Q404,858 404,846 Z" fill="#f1f0ea" stroke="#cfcdc2"/>
 <path d="M404,836 Q418,830 432,836 L432,846 Q432,858 418,858 Q404,858 404,846 Z" fill="#fafaf6" stroke="#dcdad0"/>
 <circle cx="418" cy="836" r=".8" fill="#444"/>
</g>
<g>
 <circle cx="358" cy="752" r="1.5" fill="#8a5aa8"/><circle cx="363" cy="752" r="1.5" fill="#d8c040"/><circle cx="368" cy="752" r="1.5" fill="#5ab04a"/><circle cx="373" cy="752" r="1.8" fill="#222"/>
 <circle cx="358" cy="825" r="1.5" fill="#8a5aa8"/><circle cx="363" cy="825" r="1.5" fill="#d8c040"/><circle cx="368" cy="825" r="1.5" fill="#5ab04a"/><circle cx="373" cy="825" r="1.8" fill="#222"/>
</g>
<g>
 <rect x="454" y="806" width="51" height="54" rx="3" fill="#eef0ed" stroke="#cdd0cc" stroke-width=".8"/>
 <rect x="462" y="813" width="36" height="40" fill="#fafafa" stroke="#dcdedb" stroke-width=".6"/>
 <circle cx="482" cy="832" r="9.5" fill="url(#redb)"/>
 <path d="M481,843 l2,7" stroke="#666" stroke-width=".8"/>
</g>

<text x="167" y="880" font-size="14" fill="#222" textLength="395" lengthAdjust="spacingAndGlyphs">Контроль неадресных извещателей и кнопок (до 24 шлейфов)</text>
</svg>
</body></html>
